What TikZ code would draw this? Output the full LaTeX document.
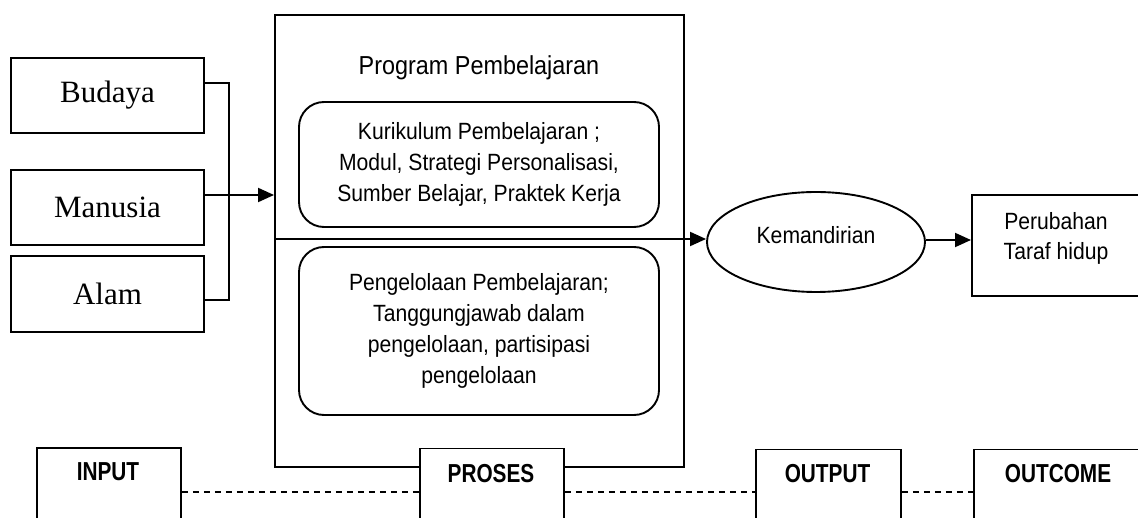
\documentclass[tikz,border=0pt]{standalone}
\usepackage{fontspec}
\setmainfont{Liberation Serif}
\newfontfamily\arialn[FakeStretch=0.9]{Liberation Sans}
\newfontfamily\arialbn[FakeStretch=0.8]{Liberation Sans}
\usetikzlibrary{arrows.meta,shapes.geometric}
\begin{document}
\begin{tikzpicture}[x=1pt,y=-1pt,
  ln/.style={line width=1.9pt},
  arr/.style={ln,-{Triangle[length=16pt,width=14pt]}},
  dsh/.style={line width=1.4pt,dash pattern=on 6.5pt off 4.5pt},
  srcbox/.style={ln,draw,minimum width=193pt,minimum height=75pt,inner sep=0pt,
     font=\fontsize{31}{36}\selectfont},
  rbox/.style={ln,draw,rounded corners=25pt,minimum width=360pt,inner sep=0pt,align=center,
     font=\arialn\fontsize{23.5}{31}\selectfont},
  plain/.style={ln,draw,inner sep=0pt},
  txt/.style={inner sep=0pt,align=center,font=\arialn\fontsize{23.5}{30}\selectfont},
  stage/.style={ln,draw,fill=white,minimum height=90pt,inner sep=0pt,anchor=north west},
  stagetxt/.style={inner sep=0pt,font=\arialbn\bfseries\fontsize{26}{30}\selectfont}]
\useasboundingbox (0,0) rectangle (1138,518);
\clip (0,0) rectangle (1138,518);
\fill[white] (0,0) rectangle (1138,518);

% input boxes
\node[srcbox] (bud) at (107.5,95.5) {Budaya};
\node[srcbox] (man) at (107.5,207.5) {Manusia};
\node[srcbox,minimum height=76pt] (alam) at (107.5,294) {Alam};

% process box
\node[ln,draw,minimum width=409pt,minimum height=452pt,inner sep=0pt] (prog) at (479.5,241) {};
\node[inner sep=0pt,font=\arialn\fontsize{26}{30}\selectfont] (progt) at (479,68) {Program Pembelajaran};
\node[rbox,minimum height=125pt] (kur) at (479,164.5)
  {Kurikulum Pembelajaran ;\\Modul, Strategi Personalisasi,\\Sumber Belajar, Praktek Kerja};
\node[rbox,minimum height=168pt] (pen) at (479,331)
  {Pengelolaan Pembelajaran;\\Tanggungjawab dalam\\pengelolaan, partisipasi\\pengelolaan};

% output / outcome
\node[ln,draw,ellipse,minimum width=218pt,minimum height=100pt,inner sep=0pt] (kem) at (816,242) {};
\node[txt] (kemt) at (816,235) {Kemandirian};
\node[plain,minimum width=190pt,minimum height=101pt,anchor=west] (per) at (971,245.5) {};
\node[txt] (pert) at (1056,238) {Perubahan\\Taraf hidup};

% connectors
\coordinate (bA) at ([yshift=12.5pt]bud.east);
\coordinate (mA) at ([yshift=12.5pt]man.east);
\coordinate (aA) at ([yshift=-6pt]alam.east);
\draw[ln] (bA) -- ++(24,0) |- (aA);
\draw[arr] (mA) -- (prog.west |- mA);
\draw[arr] (prog.west |- 0,239) -- (kem.west |- 0,239);
\draw[arr] (kem.east |- 0,240) -- (per.west |- 0,240);

% stages
\node[stage,minimum width=144pt] (inp) at (36,447) {};
\node[stage,minimum width=144pt] (pro) at (419,447.5) {};
\node[stage,minimum width=145pt] (out) at (755,448.5) {};
\node[stage,minimum width=180pt] (outc) at (973,448.5) {};
\node[stagetxt] (inpt) at (108,472) {INPUT};
\node[stagetxt] (prot) at (491,474) {PROSES};
\node[stagetxt] (outt) at (827.5,474) {OUTPUT};
\node[stagetxt] (outct) at (1058,474) {OUTCOME};

\draw[dsh] (inp.east |- 0,492) -- (pro.west |- 0,492);
\draw[dsh] (pro.east |- 0,492) -- (out.west |- 0,492);
\draw[dsh] (out.east |- 0,492) -- (outc.west |- 0,492);
\end{tikzpicture}
\end{document}
